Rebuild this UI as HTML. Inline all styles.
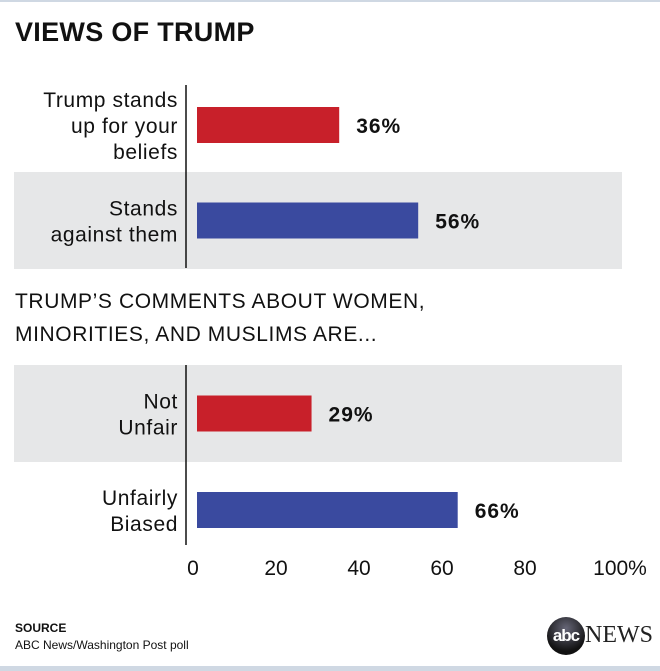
<!DOCTYPE html>
<html><head><meta charset="utf-8"><style>
body{margin:0;width:660px;height:671px;background:#fff;font-family:"Liberation Sans",sans-serif;overflow:hidden;position:relative}
.t{position:absolute;white-space:nowrap}
</style></head><body>
<div style="position:absolute;left:0;top:0;width:660px;height:2px;background:#cfd8e3"></div>
<div class="t" style="left:15px;top:17px;font-size:27px;font-weight:bold;color:#111;letter-spacing:0.3px">VIEWS OF TRUMP</div>
<div class="t" style="left:15px;top:285px;font-size:21px;line-height:33px;color:#111;letter-spacing:0.6px">TRUMP’S COMMENTS ABOUT WOMEN,<br>MINORITIES, AND MUSLIMS ARE...</div>
<svg id="chart" width="660" height="600" style="position:absolute;left:0;top:0"></svg>
<div class="t" style="left:15px;top:621px;font-size:12px;font-weight:bold;color:#111">SOURCE</div>
<div class="t" style="left:15px;top:638px;font-size:12px;color:#111">ABC News/Washington Post poll</div>
<div style="position:absolute;left:547px;top:617px;width:38px;height:38px;border-radius:50%;background:radial-gradient(circle at 50% 30%,#667 0%,#111 70%);color:#fff;font-weight:bold;font-size:17px;line-height:38px;text-align:center;letter-spacing:-1px">abc</div>
<div class="t" style="left:585px;top:622px;font-family:'Liberation Serif',serif;font-size:24px;color:#222">NEWS</div>
<div style="position:absolute;left:0;top:666px;width:660px;height:5px;background:#cfd8e3"></div>
<script>
const categories=[["Trump stands","up for your","beliefs"],["Stands","against them"],["Not","Unfair"],["Unfairly","Biased"]];
const values=[36,56,29,66];
const colors=["#c8202a","#3a4a9f","#c8202a","#3a4a9f"];
const shaded=[false,true,true,false];
const tickValues=[0,20,40,60,80,100];
const tickLabels=["0","20","40","60","80","100%"];
const rowTops=[85,172,365,462];
const rowH=[87,97,97,83];
const rowShift=[-3.5,0,0,6.5];
const NS="http://www.w3.org/2000/svg";
const svg=document.getElementById("chart");
function barW(v){return v*3.95;}
function tickX(v){return 193+v*4.15;}
function mk(tag,attrs){const e=document.createElementNS(NS,tag);for(const k in attrs)e.setAttribute(k,attrs[k]);svg.appendChild(e);return e;}
values.forEach((v,i)=>{
  const top=rowTops[i],h=rowH[i];
  if(shaded[i]){const bg=mk("rect",{x:14,y:top,width:608,height:h,fill:"#e6e7e8"});
    
    }
  const cy=top+h/2+rowShift[i];
  const b=mk("rect",{x:197,y:cy-18,width:barW(v),height:36,fill:colors[i]});
  
  
  const vl=mk("text",{x:197+barW(v)+17,y:cy+8,"font-size":21,"font-weight":"bold",fill:"#111","letter-spacing":"1"});
  vl.textContent=v+"%";
  
  
  const lines=categories[i];
  lines.forEach((s,j)=>{
    const t=mk("text",{x:178,y:cy+8+(j-(lines.length-1)/2)*26,"font-size":21,fill:"#111","text-anchor":"end","letter-spacing":"0.6"});
    t.textContent=s;
    
    
  });
});
const ax=mk("line",{x1:186,y1:85,x2:186,y2:268,stroke:"#111","stroke-width":1.5});


const ax2=mk("line",{x1:186,y1:365,x2:186,y2:545,stroke:"#111","stroke-width":1.5});


tickValues.forEach((v,i)=>{
  const t=mk("text",{x:tickX(v)+(i==5?12:0),y:575,"font-size":21,fill:"#111","text-anchor":"middle"});
  t.textContent=tickLabels[i];
  
  
});
</script>
</body></html>
